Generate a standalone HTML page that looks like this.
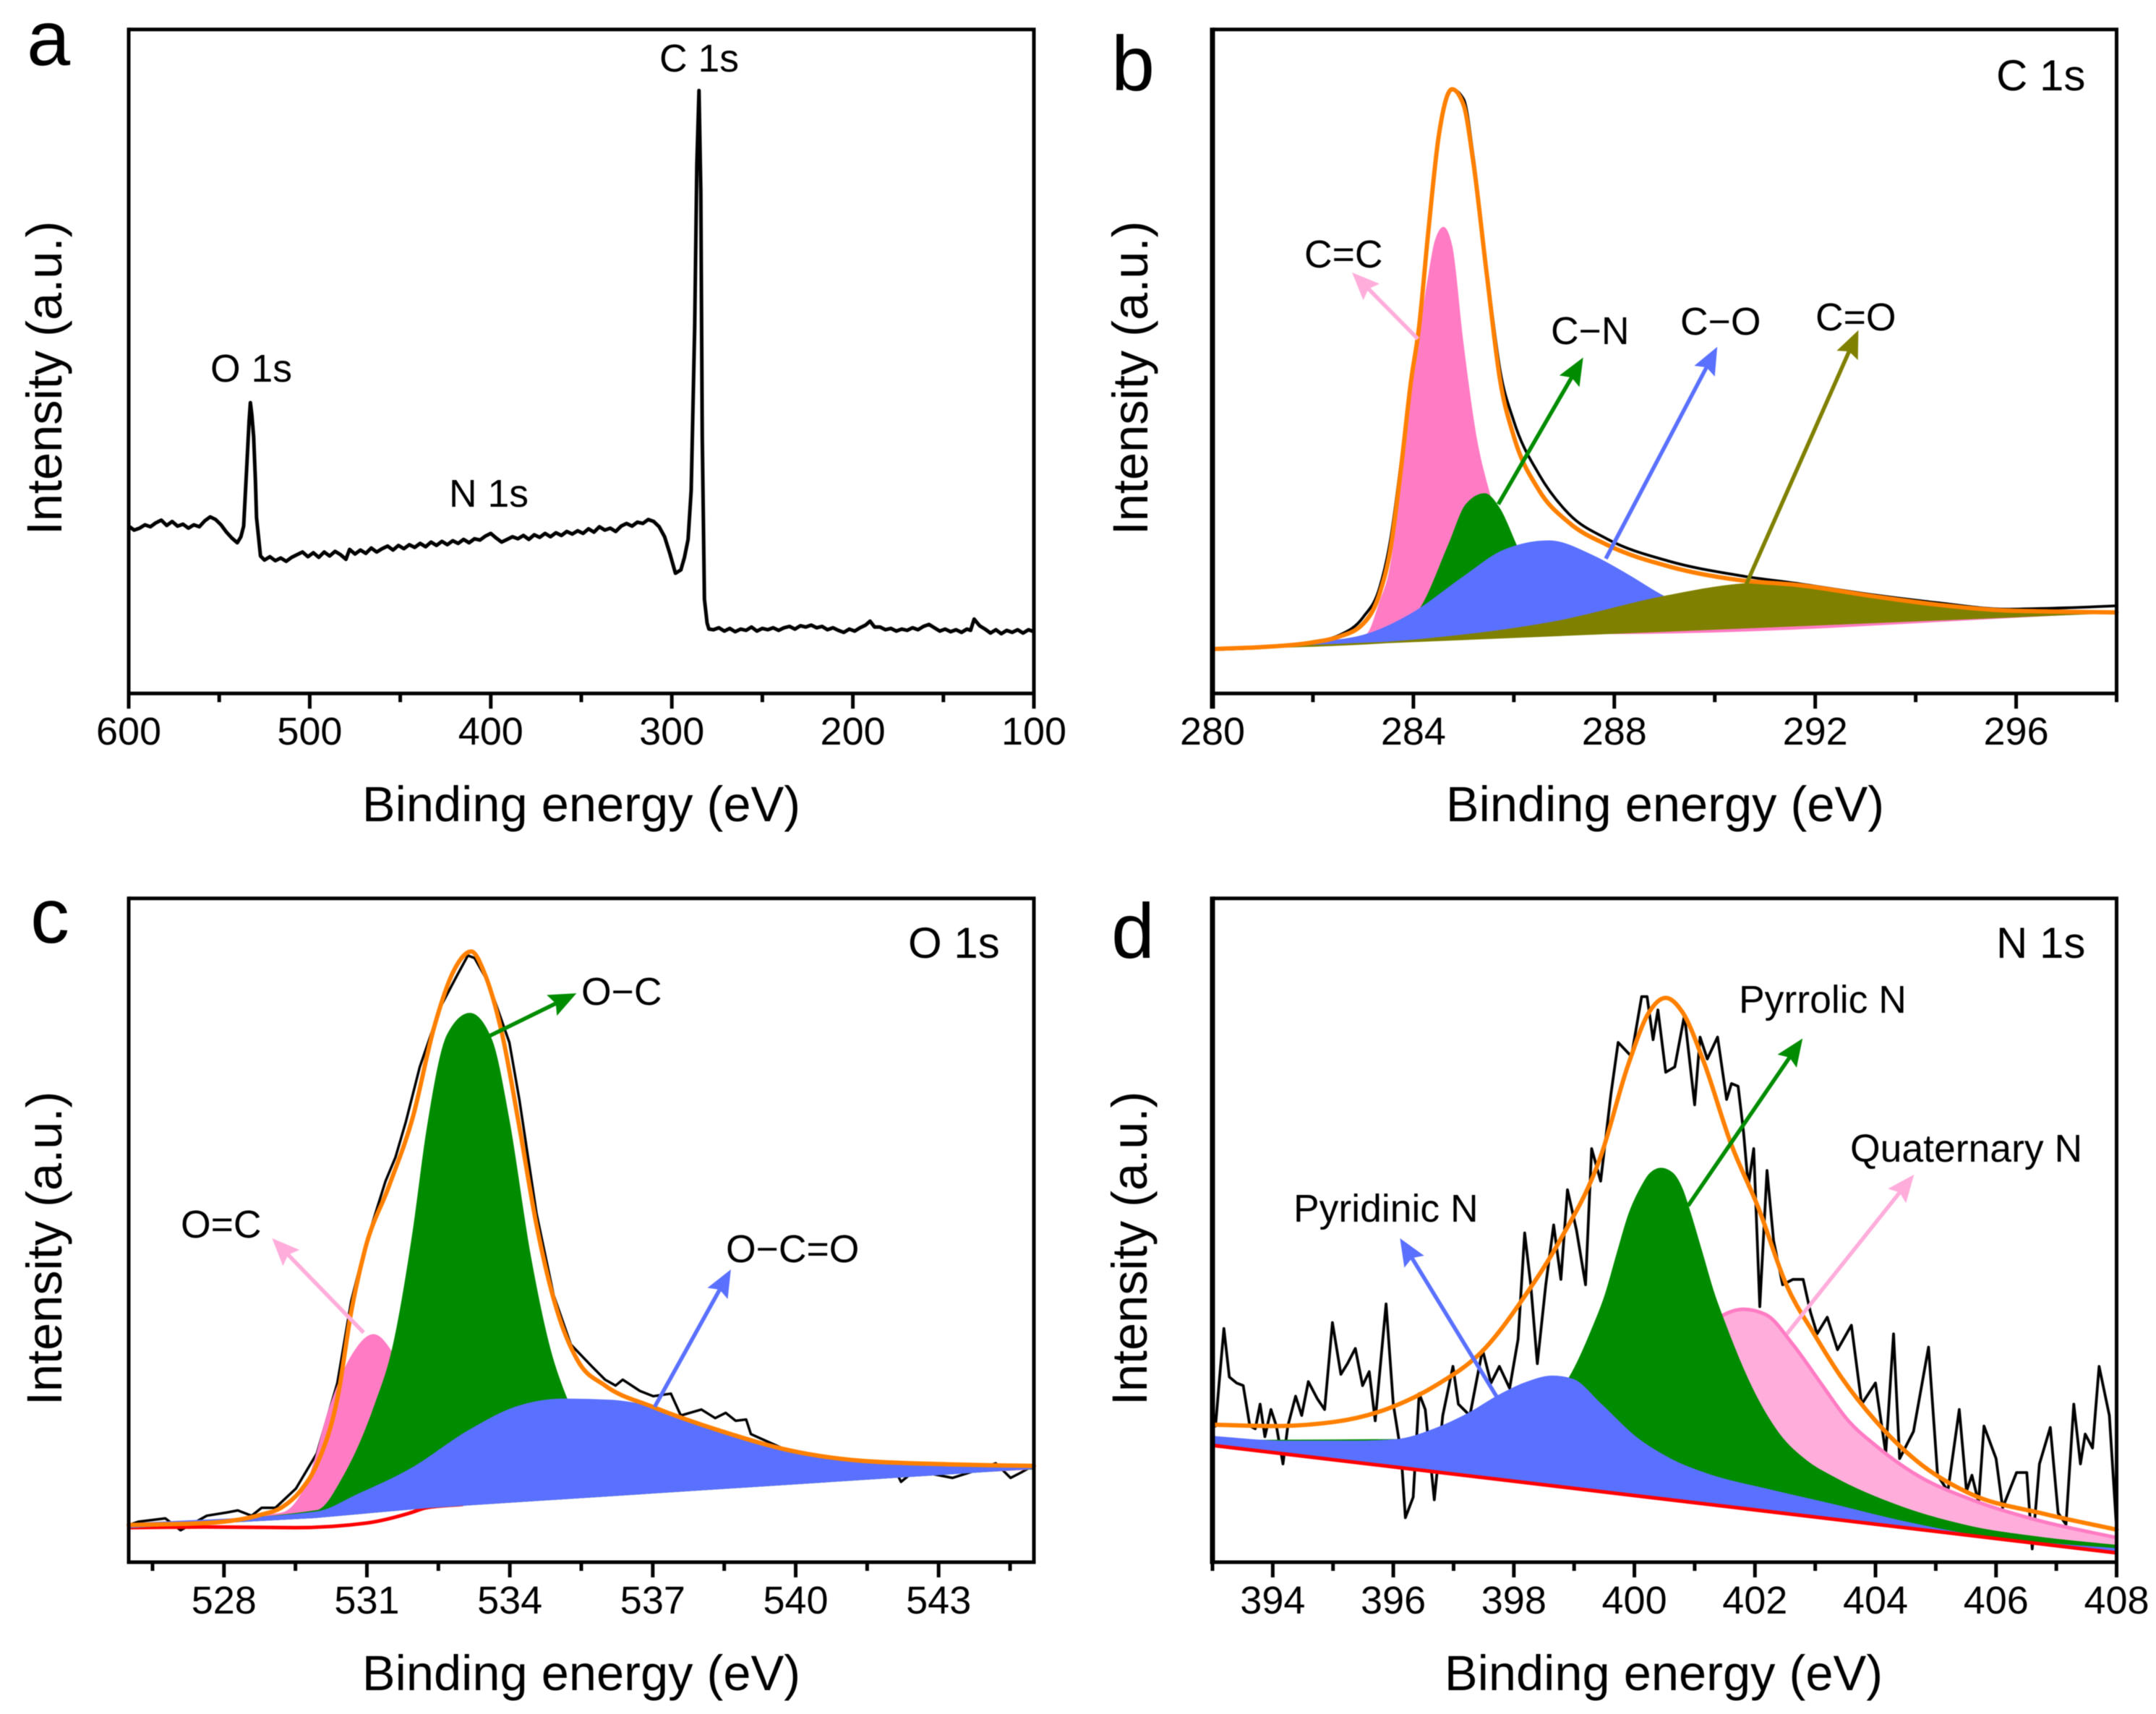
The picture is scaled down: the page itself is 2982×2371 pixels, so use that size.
<!DOCTYPE html>
<html lang="en">
<head>
<meta charset="utf-8">
<title>XPS spectra</title>
<style>
html,body{margin:0;padding:0;background:#fff;}
svg{display:block;font-family:"Liberation Sans",Arial,sans-serif;fill:#000;filter:blur(0.6px);}
.lbl{font-size:53.5px;}
.ttl{font-size:60px;}
.axt{font-size:68.6px;}
.let{font-size:108px;}
.tk{font-size:54px;text-anchor:middle;}
</style>
</head>
<body>
<svg id="figure" xmlns="http://www.w3.org/2000/svg" width="2982" height="2371" viewBox="0 0 2982 2371">
  <rect x="0" y="0" width="2982" height="2371" fill="#fff"/>
  <g id="plots"></g>
  <g id="texts">
    <text class="let" x="37" y="90">a</text>
    <text class="let" x="1537" y="125">b</text>
    <text class="let" x="42" y="1304">c</text>
    <text class="let" x="1537" y="1325">d</text>

    <text class="axt" x="804" y="1136" text-anchor="middle">Binding energy (eV)</text>
    <text class="axt" x="2303" y="1136" text-anchor="middle">Binding energy (eV)</text>
    <text class="axt" x="804" y="2338" text-anchor="middle">Binding energy (eV)</text>
    <text class="axt" x="2301" y="2338" text-anchor="middle">Binding energy (eV)</text>

    <text class="axt" transform="translate(85 523) rotate(-90)" text-anchor="middle">Intensity (a.u.)</text>
    <text class="axt" transform="translate(1587 523) rotate(-90)" text-anchor="middle">Intensity (a.u.)</text>
    <text class="axt" transform="translate(85 1727) rotate(-90)" text-anchor="middle">Intensity (a.u.)</text>
    <text class="axt" transform="translate(1586 1727) rotate(-90)" text-anchor="middle">Intensity (a.u.)</text>

    <text class="lbl" x="912" y="99">C 1s</text>
    <text class="lbl" x="291" y="528">O 1s</text>
    <text class="lbl" x="621" y="701">N 1s</text>

    <text class="ttl" x="2761" y="125">C 1s</text>
    <text class="lbl" x="1804" y="370">C=C</text>
    <text class="lbl" x="2145" y="476">C−N</text>
    <text class="lbl" x="2324" y="463">C−O</text>
    <text class="lbl" x="2511" y="457">C=O</text>

    <text class="ttl" x="1256" y="1325">O 1s</text>
    <text class="lbl" x="250" y="1712">O=C</text>
    <text class="lbl" x="804" y="1390">O−C</text>
    <text class="lbl" x="1004" y="1746">O−C=O</text>

    <text class="ttl" x="2761" y="1325">N 1s</text>
    <text class="lbl" x="1789" y="1690">Pyridinic N</text>
    <text class="lbl" x="2405" y="1401">Pyrrolic N</text>
    <text class="lbl" x="2559" y="1607">Quaternary N</text>
  </g>
</svg>
<script>
/* ---------- panel a: survey ---------- */
const surveyTicks = [600, 500, 400, 300, 200, 100];
const surveyMinorTicks = [550, 450, 350, 250, 150];
const surveyEnergy = [600,597,594,591,588,585,582,579,576,573,570,567,564,561,558,555,552,549,546,543,540,538,536.5,534.7,533.5,532.8,532,531,530,529.4,527.2,525,522,519,516,513,510,507,504,501,498,495,492,489,486,483,480,478,475,472,469,466,463,460,457,454,451,448,445,442,439,436,433,430,427,424,421,418,415,412,409,406,403,400,397,394,391,388,385,382,379,376,373,370,367,364,361,358,355,352,349,346,343,340,337,334,331,328,325,322,319,316,313,310,307,304,301,298,295,293,291,289.3,287.4,286.2,285,284,283.2,282,280.5,279.5,277,274,271,268,265,262,259,256,253,250,247,244,241,238,235,232,229,226,223,220,217,214,211,208,205,202,199,196,193,190.5,188,185,182,179,176,173,170,167,164,161,158,155,152,149,146,143,140,137,135,133,130,127,124,121,118,115,112,109,106,103,100];
const surveyIntensity = [25.2,24.6,24.9,25.4,25.1,25.7,26.1,25.3,25.9,25.2,25.5,24.9,25.4,25.1,26,26.6,26.2,25.4,24.3,23.4,22.7,23.6,25.2,34.6,41,43.8,42,38.7,32,26.5,20.7,20.1,20.6,20.0,20.4,19.9,20.5,20.9,21.3,20.6,21.2,20.5,21.3,20.7,21.4,20.9,20.2,21.7,21.0,21.6,21.1,21.9,21.3,21.8,22.2,21.6,22.3,21.8,22.4,22.0,22.6,22.1,22.8,22.3,22.9,22.4,23,22.6,23.2,22.7,23.3,23.1,23.7,24.1,23.4,22.8,23.2,23.6,23.3,23.8,23.2,23.9,23.5,24.1,23.6,24.2,23.8,24.4,24.0,24.5,24.1,24.8,24.3,25.1,24.6,24.9,24.4,25.2,25.6,25.2,25.8,25.6,26.2,25.9,25.1,23.6,21,18.1,18.6,20.5,23.2,30.6,55,79.6,90.8,75.5,38.7,14.2,10.6,9.7,9.6,9.9,9.4,9.8,9.3,9.7,9.5,10,9.4,9.8,9.6,9.9,9.5,9.9,10.1,9.7,10.2,10,10.3,9.9,10.1,9.6,9.9,9.5,9.2,9.7,9.4,9.9,10.3,10.9,10,10,9.6,9.8,9.4,9.7,9.5,9.9,9.6,10.1,10.4,9.9,9.4,9.7,9.3,9.6,9.2,9.7,9.5,11.2,10.2,9.7,9.1,9.6,9.0,9.5,9.2,9.6,9.1,9.6,9.3,9.8];

/* ---------- panel b: C 1s ---------- */
const carbonTicks = [280, 284, 288, 292, 296];
const carbonMinorTicks = [282, 286, 290, 294, 298];
const carbonRawEnergy = [280,281,282,282.5,283,283.33,283.54,283.74,283.95,284.11,284.29,284.5,284.77,285,285.2,285.46,285.73,286,286.5,287.1,287.85,289.1,290.46,291.7,293.2,294.4,295.8,297,298];
const carbonRawIntensity = [6.6,6.9,7.8,8.7,11.5,16,23,34,47.5,55.5,69.5,84,91,89.5,80.5,64,48.5,41,33,27,23.3,19.9,17.8,16.5,14.8,13.7,12.7,12.9,13.2];
const carbonEnvelopeEnergy = [280,281,282,282.5,283,283.33,283.54,283.74,283.95,284.11,284.29,284.5,284.77,285,285.2,285.46,285.73,286,286.5,287.1,287.85,289.1,290.46,291.7,293.2,294.4,295.8,298];
const carbonEnvelopeIntensity = [6.7,7,7.7,8.5,10.5,15.1,21.6,33,46.9,55,69,83.7,91,88.6,79.6,63.2,47,38.7,30.6,25.7,22.4,19.1,17.1,16.3,14.6,13.4,12.5,12.2];
const carbonBaseEnergy = [298, 280];
const carbonBaseIntensity = [12.2, 6.6];
const ccEnergy = [280,282,283.06,283.33,283.54,283.74,283.95,284.11,284.29,284.43,284.6,284.77,284.98,285.25,285.53,286,287,288,298];
const ccIntensity = [6.7,7.4,8.9,13.8,19.1,30.6,44.4,53.4,62.4,68.1,70.2,67.3,53.4,38.7,29.7,18,10,9,12.2];
const cnEnergy = [280,283.5,284.15,284.7,285.05,285.42,285.73,286.07,286.35,287,298];
const cnIntensity = [6.7,9,13,22.4,28.5,30.1,27.7,22,17.5,11,12.2];
const coEnergy = [280,282,283.06,284,284.98,285.8,286.7,287.58,288.27,289,289.5,290,291,298];
const coIntensity = [6.7,7.7,8.9,12.2,17.5,21.6,23,20.75,17.9,14.6,13,11.6,10.5,12.2];
const cdoEnergy = [280,284.15,286.9,289,290.46,291.15,292.1,293.75,295.4,298];
const cdoIntensity = [6.6,8.1,10.9,14.6,16.4,16.7,15.8,13.8,12.6,12.3];
const ccArrowEnergy = [284.09, 282.78];
const ccArrowIntensity = [53.4, 63.4];
const cnArrowEnergy = [285.69, 287.38];
const cnArrowIntensity = [28.5, 50.6];
const coArrowEnergy = [287.83, 290.05];
const coArrowIntensity = [20.3, 52.2];
const cdoArrowEnergy = [290.63, 292.86];
const cdoArrowIntensity = [16.5, 54.7];

/* ---------- panel c: O 1s ---------- */
const oxygenTicks = [528, 531, 534, 537, 540, 543];
const oxygenMinorTicks = [526.5, 529.5, 532.5, 535.5, 538.5, 541.5, 544.5];
const oxygenRawEnergy = [526,526.2,526.77,527.09,527.64,528.07,528.29,528.58,528.79,529.08,529.51,529.95,530.38,530.67,530.96,531.39,531.6,531.82,532.11,532.54,532.9,533.12,533.26,533.55,533.99,534.2,534.56,534.92,535.28,535.72,536,536.22,536.37,536.73,537.01,537.38,537.59,538.02,538.31,538.53,538.74,538.96,539.06,539.9,541.34,542.06,542.21,542.5,543.29,543.65,544.2,544.51,544.73,545];
const oxygenRawIntensity = [5.6,6.1,6.6,4.8,7,7.5,7.8,7,8.2,8.2,11.1,16.4,27,39.3,47.5,57.4,61,66.4,74.6,83.6,88.5,91.4,91,87.3,78.3,69.7,52.5,40.2,32.8,29.5,27.5,26.6,27.5,25.8,25,25.4,22.1,23,21.7,22.5,21.3,21.5,19.3,16.6,15.2,14.3,12.1,13.8,12.7,13.5,14.9,12.7,13.5,14.6];
const oxygenEnvelopeEnergy = [526,527.64,528.8,529.2,529.6,529.95,530.4,530.67,530.96,531.46,531.97,532.4,532.83,533.19,533.48,533.84,534.2,534.56,535,535.43,536,537,538.46,539.9,541.34,543.2,545];
const oxygenEnvelopeIntensity = [5.6,5.9,7.2,8.2,10.7,14.75,25.4,37.7,47.1,56.6,67.2,80.3,89.2,92,88.5,79.5,65.6,50.8,37.7,30.3,26.6,23.4,19.7,16.8,15.3,14.75,14.5];
const oxygenRedEnergy = [526,527.6,529.5,531,531.9,532.25,533];
const oxygenRedIntensity = [5.2,5.3,5.2,5.9,7.4,8.2,8.7];
const oxygenBaseEnergy = [545, 532.25, 529.9, 526];
const oxygenBaseIntensity = [14.1, 8.2, 6.7, 5.2];
const odcEnergy = [526,529.2,529.8,530.2,530.67,531.14,531.53,532,533,545];
const odcIntensity = [5.6,7.4,13.1,23,31,34.3,31.6,24,10,14];
const ocEnergy = [526,529.95,530.52,531.17,531.53,531.97,532.25,532.69,533.16,533.62,533.99,534.42,534.85,535.2,535.6,536.2,545];
const ocIntensity = [5.6,7.8,13.1,23.8,32,50,64.75,79.5,82.7,78.7,66.4,46.7,32,24.6,19,14,14];
const ocoEnergy = [526,529.95,530.8,531.97,533.1,534.13,535.14,536.15,537,538.46,539.9,541.34,543.2,545];
const ocoIntensity = [5.8,7.6,10.2,14.3,19.7,23.4,24.6,24.4,23.4,19.7,16.6,15.2,14.75,14.6];
const odcArrowEnergy = [530.93, 529.01];
const odcArrowIntensity = [34.6, 48.8];
const ocArrowEnergy = [533.58, 535.4];
const ocArrowIntensity = [79.3, 85.7];
const ocoArrowEnergy = [537.04, 538.64];
const ocoArrowIntensity = [23.4, 44.1];

/* ---------- panel d: N 1s ---------- */
const nitrogenTicks = [394, 396, 398, 400, 402, 404, 406, 408];
const nitrogenMinorTicks = [393, 395, 397, 399, 401, 403, 405, 407];
const nitrogenRawEnergy = [393.05,393.11,393.19,393.28,393.4,393.51,393.62,393.71,393.79,393.87,393.97,394.06,394.17,394.25,394.38,394.48,394.59,394.74,394.86,394.99,395.13,395.24,395.37,395.49,395.6,395.7,395.88,396,396.13,396.2,396.33,396.43,396.53,396.68,396.82,396.99,397.08,397.27,397.48,397.62,397.76,397.93,398.07,398.18,398.28,398.39,398.53,398.66,398.78,398.89,399.04,399.19,399.29,399.44,399.61,399.73,399.95,400.12,400.21,400.31,400.39,400.52,400.67,400.83,401,401.09,401.21,401.38,401.53,401.61,401.72,401.81,401.89,401.98,402.08,402.2,402.31,402.46,402.63,402.8,402.92,403.03,403.2,403.37,403.6,403.77,404,404.17,404.3,404.4,404.63,404.88,405.03,405.2,405.39,405.51,405.6,405.71,405.8,406,406.11,406.34,406.51,406.6,406.72,406.9,407.03,407.16,407.29,407.4,407.48,407.6,407.71,407.88,408];
const nitrogenRawIntensity = [20.5,27,35.2,27.9,27,26.6,20.5,20.1,23.8,18.9,23,20.5,14.8,20.5,25,22.1,27.2,24.6,23,36.1,28.3,29.9,32.2,26.6,28.7,21.3,38.9,23.8,16.4,6.7,9.8,25.4,23,9.4,22.1,29.5,23.8,22.1,32,27,29.5,26.2,33.6,49.6,41.8,29.9,41.8,50.8,42.6,56.1,50,41.8,62.3,57.4,70.5,78.3,76.2,85.2,85.2,78.7,83.2,73.8,74.6,82.4,68.9,79.1,75.8,79.1,69.7,72.1,71.7,64.8,56.6,62.3,38.5,59,48.4,41.8,42.6,42.6,37.7,34.4,36.9,32,35.7,23.8,27,16.4,34.4,15.6,19.7,32.4,13.1,10.7,23,10.7,13.1,9,20.5,15.6,8.2,13.5,13.5,2,14.8,20.3,7.4,5.7,23.8,14.8,19.3,17.2,29.5,22.1,4.9];
const nitrogenEnvelopeEnergy = [393.05,394,395,395.9,396.7,397.5,398.19,398.76,399.44,399.9,400.24,400.52,400.8,401.15,401.6,402.06,402.52,402.98,403.43,404,404.69,405.6,406.74,408];
const nitrogenEnvelopeIntensity = [20.7,20.5,21.1,23.1,26.6,32,40.2,48.4,61.1,75,82.8,85,82.8,75.4,63.1,53.3,41.8,34.4,27.9,21.3,15.2,10.2,7.4,4.9];
const nitrogenBaseEnergy = [408, 393];
const nitrogenBaseIntensity = [1.4, 17.6];
const quatEnergy = [393,398,400,400.5,401.49,401.81,402.18,402.63,403.09,403.55,404,404.69,405.6,406.74,408];
const quatIntensity = [18,18,20,26,37.3,38.1,37.3,32.8,27,21.3,17.6,13.1,9.4,6.2,3.7];
const pyrrolicEnergy = [393,397,398.2,398.6,398.93,399.31,399.51,399.72,399.91,400.11,400.27,400.44,400.63,400.8,400.92,401.11,401.31,401.51,401.95,402.4,402.86,403.32,404.46,405.6,406.74,408];
const pyrrolicIntensity = [18.3,18.5,22,24,27.9,35.3,40,46.6,52.4,56.4,58.6,59.3,58.6,56,52.7,46.9,40.7,35.7,26.2,19.3,15.2,12.7,8.2,5.3,3.7,2.5];
const pyridinicEnergy = [393,394.19,395.33,396.02,396.7,397.27,397.73,398.19,398.64,398.98,399.44,400.01,400.58,401.26,402.18,403.32,404.46,405.6,406.74,408];
const pyridinicIntensity = [18.9,18.2,18.2,18.4,20.1,22.5,25,27,28,27.5,23.8,18.9,15.6,13.1,11,8.6,6.1,4.1,2.9,2];
const pyridinicArrowEnergy = [397.71, 396.11];
const pyridinicArrowIntensity = [25, 48.8];
const pyrrolicArrowEnergy = [400.89, 402.79];
const pyrrolicArrowIntensity = [53.7, 78.9];
const quatArrowEnergy = [402.53, 404.64];
const quatArrowIntensity = [34.4, 58.4];

/* ---------- drawing ---------- */
const NS = 'http://www.w3.org/2000/svg';
const plots = document.getElementById('plots');
const COLORS = {pink:'#ff7cc4', lightPink:'#ffaedb', green:'#008c00', blue:'#5a70ff', olive:'#808000', orange:'#ff8000', red:'#ff0000'};

function make(tag, attrs, parent) {
  const node = document.createElementNS(NS, tag);
  for (const k in attrs) node.setAttribute(k, attrs[k]);
  parent.appendChild(node);
  return node;
}
function axisFns(left, right, top, bottom, xMin, xMax) {
  return {
    left, right, top, bottom,
    x: v => left + (v - xMin) / (xMax - xMin) * (right - left),
    y: v => bottom - v / 100 * (bottom - top)
  };
}
function straight(ax, xs, ys) {
  return xs.map((v, i) => (i ? 'L' : 'M') + ax.x(v).toFixed(1) + ' ' + ax.y(ys[i]).toFixed(1)).join('');
}
/* monotone cubic through the read points: no overshoot, no loops */
function smooth(ax, xs, ys) {
  const p = xs.map((v, i) => [ax.x(v), ax.y(ys[i])]);
  const n = p.length;
  const s = [];
  for (let i = 0; i < n - 1; i++) s.push((p[i + 1][1] - p[i][1]) / (p[i + 1][0] - p[i][0]));
  const m = new Array(n);
  m[0] = s[0];
  m[n - 1] = s[n - 2];
  for (let i = 1; i < n - 1; i++) {
    const h0 = p[i][0] - p[i - 1][0], h1 = p[i + 1][0] - p[i][0];
    const q = (s[i - 1] * h1 + s[i] * h0) / (h0 + h1);
    m[i] = (Math.sign(s[i - 1]) + Math.sign(s[i])) * Math.min(Math.abs(s[i - 1]), Math.abs(s[i]), 0.5 * Math.abs(q));
  }
  let d = 'M' + p[0][0].toFixed(1) + ' ' + p[0][1].toFixed(1);
  for (let i = 0; i < n - 1; i++) {
    const h = (p[i + 1][0] - p[i][0]) / 3;
    d += 'C' + (p[i][0] + h).toFixed(1) + ' ' + (p[i][1] + m[i] * h).toFixed(1) + ' ' + (p[i + 1][0] - h).toFixed(1) + ' ' + (p[i + 1][1] - m[i + 1] * h).toFixed(1) + ' ' + p[i + 1][0].toFixed(1) + ' ' + p[i + 1][1].toFixed(1);
  }
  return d;
}
function drawTrace(g, ax, xs, ys, color, width, curved, name) {
  const el = make('path', {d: curved ? smooth(ax, xs, ys) : straight(ax, xs, ys), fill: 'none', stroke: color, 'stroke-width': width, 'stroke-linejoin': 'round', 'stroke-linecap': 'round'}, g);
  
  
}
function drawPeak(g, ax, xs, ys, baseX, baseY, color, edge, edgeWidth, name) {
  const close = baseX.map((v, i) => 'L' + ax.x(v).toFixed(1) + ' ' + ax.y(baseY[i]).toFixed(1)).join('');
  const el = make('path', {d: smooth(ax, xs, ys) + close + 'Z', fill: color, stroke: edge, 'stroke-width': edgeWidth, 'stroke-linejoin': 'round'}, g);
  
  
}
function drawArrow(g, ax, xs, ys, color, name) {
  const x0 = ax.x(xs[0]), y0 = ax.y(ys[0]), x1 = ax.x(xs[1]), y1 = ax.y(ys[1]);
  const len = Math.hypot(x1 - x0, y1 - y0), ux = (x1 - x0) / len, uy = (y1 - y0) / len;
  const nx = x1 - ux * 32, ny = y1 - uy * 32, bx = x1 - ux * 38, by = y1 - uy * 38;
  const d = 'M' + x0.toFixed(1) + ' ' + y0.toFixed(1) + 'L' + nx.toFixed(1) + ' ' + ny.toFixed(1);
  const head = [[x1, y1], [bx - uy * 16, by + ux * 16], [nx, ny], [bx + uy * 16, by - ux * 16]].map(q => q[0].toFixed(1) + ',' + q[1].toFixed(1)).join(' ');
  const group = make('g', {}, g);
  
  
  make('path', {d, stroke: color, 'stroke-width': 5.5, fill: 'none'}, group);
  make('polygon', {points: head, fill: color}, group);
}
function drawFrame(g, ax, leftWidth, majors, minors, labelY, name) {
  const frame = make('g', {stroke: '#000', fill: 'none'}, g);
  
  
  make('path', {d: 'M' + ax.left + ' ' + ax.top + 'H' + ax.right + 'V' + ax.bottom + 'H' + ax.left, 'stroke-width': 5}, frame);
  make('path', {d: 'M' + ax.left + ' ' + (ax.top - 2.5) + 'V' + (ax.bottom + 2.5), 'stroke-width': leftWidth}, frame);
  majors.forEach(t => {
    const tick = make('line', {x1: ax.x(t), x2: ax.x(t), y1: ax.bottom, y2: ax.bottom + 21, stroke: '#000', 'stroke-width': ax.x(t) === ax.left ? leftWidth : 5}, g);
    
    
    const label = make('text', {x: ax.x(t), y: labelY, class: 'tk'}, g);
    label.textContent = t;
    
    
  });
  minors.forEach(t => {
    const tick = make('line', {x1: ax.x(t), x2: ax.x(t), y1: ax.bottom, y2: ax.bottom + 12, stroke: '#000', 'stroke-width': 5}, g);
    
    
  });
}
function panelGroup(name) {
  const g = make('g', {}, plots);
  
  
  return g;
}

/* a */
const gA = panelGroup('panel-a-survey');
const axA = axisFns(178, 1430, 40.7, 959.3, 600, 100);
drawTrace(gA, axA, surveyEnergy, surveyIntensity, '#000', 5, false, 'survey-spectrum');
drawFrame(gA, axA, 5, surveyTicks, surveyMinorTicks, 1030, 'panel-a');

/* b */
const gB = panelGroup('panel-b-carbon');
const axB = axisFns(1677, 2927.5, 40.7, 959.3, 280, 298);
drawTrace(gB, axB, carbonRawEnergy, carbonRawIntensity, '#000', 3.8, true, 'carbon-raw-spectrum');
drawPeak(gB, axB, ccEnergy, ccIntensity, carbonBaseEnergy, carbonBaseIntensity, COLORS.pink, COLORS.pink, 1, 'peak-c-double-c');
drawPeak(gB, axB, cnEnergy, cnIntensity, carbonBaseEnergy, carbonBaseIntensity, COLORS.green, COLORS.green, 1, 'peak-c-n');
drawPeak(gB, axB, coEnergy, coIntensity, carbonBaseEnergy, carbonBaseIntensity, COLORS.blue, COLORS.blue, 1, 'peak-c-o');
drawPeak(gB, axB, cdoEnergy, cdoIntensity, carbonBaseEnergy, carbonBaseIntensity, COLORS.olive, COLORS.olive, 2, 'peak-c-double-o');
drawTrace(gB, axB, carbonEnvelopeEnergy, carbonEnvelopeIntensity, COLORS.orange, 6, true, 'carbon-envelope');
drawArrow(gB, axB, ccArrowEnergy, ccArrowIntensity, COLORS.lightPink, 'arrow-c-double-c');
drawArrow(gB, axB, cnArrowEnergy, cnArrowIntensity, COLORS.green, 'arrow-c-n');
drawArrow(gB, axB, coArrowEnergy, coArrowIntensity, COLORS.blue, 'arrow-c-o');
drawArrow(gB, axB, cdoArrowEnergy, cdoArrowIntensity, COLORS.olive, 'arrow-c-double-o');
drawFrame(gB, axB, 7, carbonTicks, carbonMinorTicks, 1030, 'panel-b');

/* c */
const gC = panelGroup('panel-c-oxygen');
const axC = axisFns(178, 1430, 1242.7, 2161, 526, 545);
drawTrace(gC, axC, oxygenRawEnergy, oxygenRawIntensity, '#000', 3.5, false, 'oxygen-raw-spectrum');
drawTrace(gC, axC, oxygenRedEnergy, oxygenRedIntensity, COLORS.red, 5, true, 'oxygen-baseline');
drawPeak(gC, axC, odcEnergy, odcIntensity, oxygenBaseEnergy, oxygenBaseIntensity, COLORS.pink, COLORS.pink, 1, 'peak-o-double-c');
drawPeak(gC, axC, ocEnergy, ocIntensity, oxygenBaseEnergy, oxygenBaseIntensity, COLORS.green, COLORS.green, 1, 'peak-o-c');
drawPeak(gC, axC, ocoEnergy, ocoIntensity, oxygenBaseEnergy, oxygenBaseIntensity, COLORS.blue, COLORS.blue, 1, 'peak-o-c-double-o');
drawTrace(gC, axC, oxygenEnvelopeEnergy, oxygenEnvelopeIntensity, COLORS.orange, 6, true, 'oxygen-envelope');
drawArrow(gC, axC, odcArrowEnergy, odcArrowIntensity, COLORS.lightPink, 'arrow-o-double-c');
drawArrow(gC, axC, ocArrowEnergy, ocArrowIntensity, COLORS.green, 'arrow-o-c');
drawArrow(gC, axC, ocoArrowEnergy, ocoArrowIntensity, COLORS.blue, 'arrow-o-c-double-o');
drawFrame(gC, axC, 5, oxygenTicks, oxygenMinorTicks, 2232, 'panel-c');

/* d */
const gD = panelGroup('panel-d-nitrogen');
const axD = axisFns(1677, 2927.5, 1242.7, 2161, 393, 408);
drawTrace(gD, axD, nitrogenRawEnergy, nitrogenRawIntensity, '#000', 3.8, false, 'nitrogen-raw-spectrum');
drawPeak(gD, axD, quatEnergy, quatIntensity, nitrogenBaseEnergy, nitrogenBaseIntensity, COLORS.lightPink, COLORS.pink, 5, 'peak-quaternary-n');
drawPeak(gD, axD, pyrrolicEnergy, pyrrolicIntensity, nitrogenBaseEnergy, nitrogenBaseIntensity, COLORS.green, COLORS.green, 2, 'peak-pyrrolic-n');
drawPeak(gD, axD, pyridinicEnergy, pyridinicIntensity, nitrogenBaseEnergy, nitrogenBaseIntensity, COLORS.blue, COLORS.blue, 2, 'peak-pyridinic-n');
drawTrace(gD, axD, nitrogenBaseEnergy, nitrogenBaseIntensity, COLORS.red, 5, false, 'nitrogen-baseline');
drawTrace(gD, axD, nitrogenEnvelopeEnergy, nitrogenEnvelopeIntensity, COLORS.orange, 6, true, 'nitrogen-envelope');
drawArrow(gD, axD, pyridinicArrowEnergy, pyridinicArrowIntensity, COLORS.blue, 'arrow-pyridinic-n');
drawArrow(gD, axD, pyrrolicArrowEnergy, pyrrolicArrowIntensity, COLORS.green, 'arrow-pyrrolic-n');
drawArrow(gD, axD, quatArrowEnergy, quatArrowIntensity, COLORS.lightPink, 'arrow-quaternary-n');
drawFrame(gD, axD, 7, nitrogenTicks, nitrogenMinorTicks, 2232, 'panel-d');
</script>
</body>
</html>
